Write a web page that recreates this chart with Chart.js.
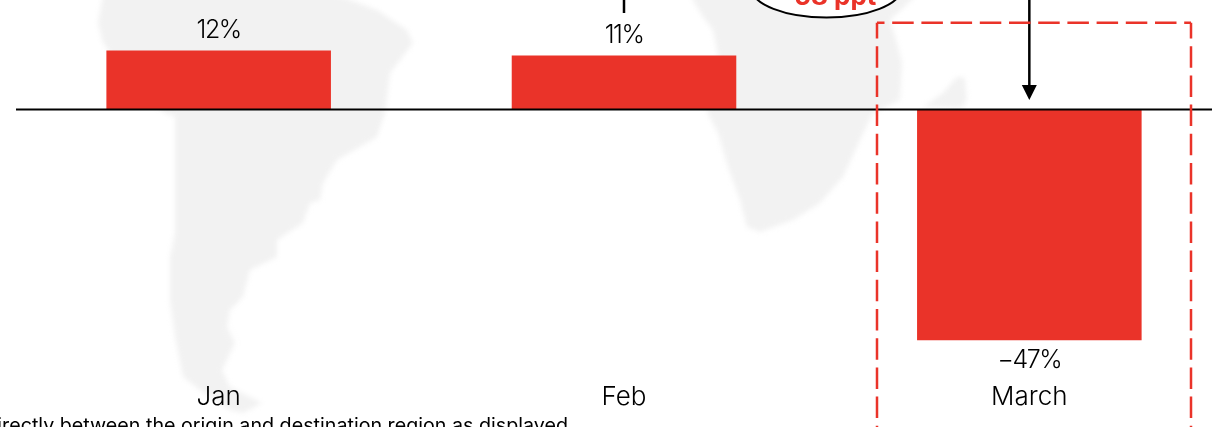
<!DOCTYPE html>
<html>
<head>
<meta charset="utf-8">
<title>Monthly change</title>
<style>
    html, body { margin: 0; padding: 0; background: #fff; overflow: hidden; }
    canvas { display: block; }
</style>
<script src="https://cdn.jsdelivr.net/npm/chart.js@4/dist/chart.umd.min.js"></script>
</head>
<body>
<canvas id="changeChart" width="1240" height="427"></canvas>
<script>
const months = ["Jan", "Feb", "March"];
const changes = [12, 11, -47];
const changeLabels = ["12%", "11%", "\u221247%"];
const calloutText = "\u221258 ppt";
const footnoteText = "directly between the origin and destination region as displayed";

const RED = "#EA3329";
const LAND = "#F2F2F2";
const FONT = "Inter, sans-serif";

// rough landmass shapes behind the bars
const southAmerica = [
    [103, -5], [98, 23], [103, 43], [130, 80], [163, 112], [175, 117], [175, 233], [170, 257],
    [170, 300], [175, 337], [183, 377], [200, 390], [230, 410], [243, 413], [262, 403], [230, 387],
    [222, 370], [235, 343], [227, 327], [230, 310], [243, 297], [250, 270], [277, 257], [277, 240],
    [303, 223], [310, 203], [320, 200], [323, 183], [337, 160], [377, 137], [385, 113], [390, 73],
    [413, 43], [407, 30], [377, 10], [337, -5]
];
const africa = [
    [690, -5], [703, 17], [713, 30], [718, 55], [712, 100], [707, 112], [718, 133], [728, 167],
    [740, 200], [747, 227], [760, 232], [793, 220], [820, 203], [843, 177], [860, 140], [873, 113],
    [900, 100], [902, 63], [897, 43], [890, 20], [917, -5]
];
const madagascar = [[923, 107], [943, 93], [957, 77], [965, 78], [967, 100], [962, 108]];

function fillShape(ctx, points) {
    ctx.beginPath();
    points.forEach((p, i) => i ? ctx.lineTo(p[0], p[1]) : ctx.moveTo(p[0], p[1]));
    ctx.closePath();
    ctx.fill();
}

const backdrop = {
    id: "backdrop",
    beforeDraw(chart) {
        const ctx = chart.ctx;
        ctx.save();
        ctx.filter = "blur(2.5px)";
        ctx.fillStyle = LAND;
        [southAmerica, africa, madagascar].forEach(s => fillShape(ctx, s));
        ctx.restore();
    }
};

const annotations = {
    id: "annotations",
    afterDatasetsDraw(chart) {
        const ctx = chart.ctx;
        const x = chart.scales.x;
        const y = chart.scales.y;
        const zero = y.getPixelForValue(0);

        // baseline
        ctx.save();
        ctx.strokeStyle = "#000";
        ctx.lineWidth = 2;
        ctx.beginPath();
        ctx.moveTo(x.left, zero);
        ctx.lineTo(x.right, zero);
        ctx.stroke();

        // value labels above or below each bar
        ctx.fillStyle = "#000";
        ctx.font = "300 25px " + FONT;
        ctx.letterSpacing = "-1.5px";
        ctx.textAlign = "center";
        changes.forEach((v, i) => {
            const top = y.getPixelForValue(v);
            ctx.textBaseline = v < 0 ? "top" : "bottom";
            ctx.fillText(changeLabels[i], x.getPixelForValue(i), v < 0 ? top + 8 : top - 8);
        });
        ctx.letterSpacing = "0px";

        // stem from Feb up into the callout
        const febX = x.getPixelForValue(1);
        ctx.lineWidth = 2.5;
        ctx.beginPath();
        ctx.moveTo(febX, 0);
        ctx.lineTo(febX, 13);
        ctx.stroke();

        // arrow down to March
        const marX = x.getPixelForValue(2);
        ctx.beginPath();
        ctx.moveTo(marX, 0);
        ctx.lineTo(marX, 88);
        ctx.stroke();
        ctx.fillStyle = "#000";
        ctx.beginPath();
        ctx.moveTo(marX - 7.5, 85);
        ctx.lineTo(marX + 7.5, 85);
        ctx.lineTo(marX, 100);
        ctx.closePath();
        ctx.fill();

        // callout bubble
        ctx.fillStyle = "#fff";
        ctx.lineWidth = 2;
        ctx.beginPath();
        ctx.ellipse(826.5, -12, 75, 29.5, 0, 0, Math.PI * 2);
        ctx.fill();
        ctx.stroke();
        ctx.fillStyle = RED;
        ctx.font = "700 26px " + FONT;
        ctx.textBaseline = "alphabetic";
        ctx.fillText(calloutText, 826.5, 5);

        // dashed box round March
        ctx.strokeStyle = RED;
        ctx.lineWidth = 2.5;
        ctx.setLineDash([21.5, 7.7]);
        ctx.lineDashOffset = 14;
        ctx.beginPath();
        ctx.moveTo(877, 22.7);
        ctx.lineTo(1191, 22.7);
        ctx.stroke();
        ctx.lineDashOffset = 5.7;
        [877, 1191].forEach(bx => {
            ctx.beginPath();
            ctx.moveTo(bx, 22.7);
            ctx.lineTo(bx, 440);
            ctx.stroke();
        });
        ctx.setLineDash([]);

        // footnote runs off the edge of the page
        ctx.fillStyle = "#000";
        ctx.font = "400 19.7px " + FONT;
        ctx.textAlign = "right";
        ctx.fillText(footnoteText, 568, 432);
        ctx.restore();
    }
};

new Chart(document.getElementById("changeChart"), {
    type: "bar",
    data: {
        labels: months,
        datasets: [{
            data: changes,
            backgroundColor: RED,
            borderWidth: 0,
            categoryPercentage: 1,
            barPercentage: 0.554
        }]
    },
    options: {
        responsive: false,
        animation: false,
        layout: { padding: { left: 16, right: 8, top: 0, bottom: 0 } },
        plugins: { legend: { display: false }, tooltip: { enabled: false } },
        scales: {
            x: {
                grid: { display: false },
                border: { display: false },
                ticks: {
                    color: "#000",
                    font: { family: FONT, size: 26, weight: "300" },
                    padding: 0,
                    maxRotation: 0
                },
                afterFit(scale) { scale.height = 53; }
            },
            y: {
                display: false,
                min: -53.86,
                max: 22.3
            }
        }
    },
    plugins: [backdrop, annotations]
});
</script>
</body>
</html>
